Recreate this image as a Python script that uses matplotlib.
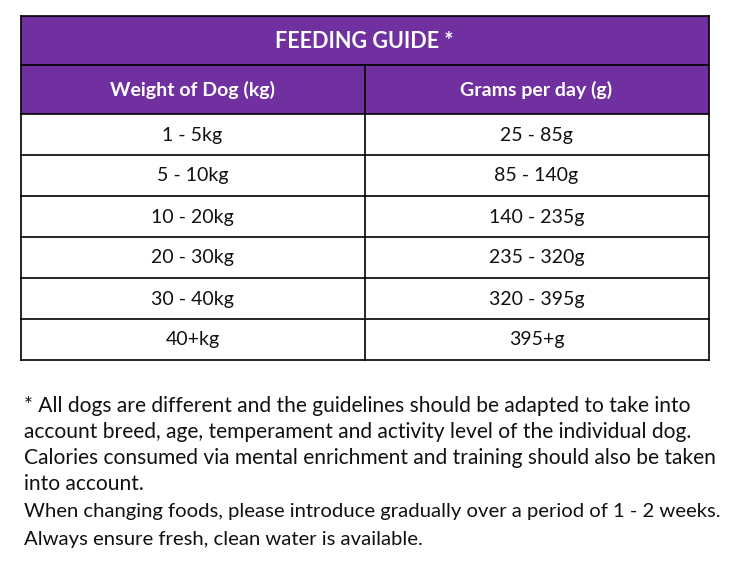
import matplotlib
matplotlib.use("Agg")
import matplotlib.pyplot as plt
from matplotlib.patches import Rectangle

title = "FEEDING GUIDE *"
headers = ["Weight of Dog (kg)", "Grams per day (g)"]
weights = ["1 - 5kg", "5 - 10kg", "10 - 20kg", "20 - 30kg", "30 - 40kg", "40+kg"]
grams = ["25 - 85g", "85 - 140g", "140 - 235g", "235 - 320g", "320 - 395g", "395+g"]
notes = [
    "* All dogs are different and the guidelines should be adapted to take into",
    "account breed, age, temperament and activity level of the individual dog.",
    "Calories consumed via mental enrichment and training should also be taken",
    "into account.",
]
notes2 = [
    "When changing foods, please introduce gradually over a period of 1 - 2 weeks.",
    "Always ensure fresh, clean water is available.",
]

purple = "#7030A0"
FONT = ["Lato", "DejaVu Sans"]

W, H = 730, 575
fig = plt.figure(figsize=(W / 100, H / 100), dpi=100)
ax = fig.add_axes([0, 0, 1, 1])
ax.set_xlim(0, W)
ax.set_ylim(H, 0)
ax.axis("off")

left, right, mid = 20.5, 708.5, 364.5
top = 15.5
title_h = 49
head_h = 49
row_h = 41
lw = 1.2

ax.add_patch(Rectangle((left, top), right - left, title_h + head_h, facecolor=purple, edgecolor="none"))
ax.text((left + right) / 2, top + title_h / 2 + 1, title, color="white", fontsize=15.5,
        fontweight="bold", ha="center", va="center", family=FONT)
y0 = top + title_h
for i, h in enumerate(headers):
    cx = (left + mid) / 2 if i == 0 else (mid + right) / 2
    ax.text(cx, y0 + head_h / 2 + 1, h, color="white", fontsize=14, fontweight="bold",
            ha="center", va="center", family=FONT)

y1 = y0 + head_h
for r, (w, g) in enumerate(zip(weights, grams)):
    cy = y1 + r * row_h + row_h / 2 + 1
    ax.text((left + mid) / 2, cy, w, color="#111111", fontsize=14, ha="center", va="center", family=FONT)
    ax.text((mid + right) / 2, cy, g, color="#111111", fontsize=14, ha="center", va="center", family=FONT)

bottom = y1 + len(weights) * row_h
for y in [top, y0, bottom] + [y1 + r * row_h for r in range(len(weights))]:
    ax.plot([left, right], [y, y], color="black", lw=lw, solid_capstyle="projecting")
ax.plot([left, left], [top, bottom], color="black", lw=lw)
ax.plot([right, right], [top, bottom], color="black", lw=lw)
ax.plot([mid, mid], [y0, bottom], color="black", lw=lw)

for i, line in enumerate(notes):
    ax.text(24, 406 + i * 26, line, color="#111111", fontsize=15.1, ha="left", va="center", family=FONT)
for i, line in enumerate(notes2):
    ax.text(24, 512 + i * 27, line, color="#111111", fontsize=14.6, ha="left", va="center", family=FONT)

fig.savefig("out.png", dpi=100, facecolor="white")
